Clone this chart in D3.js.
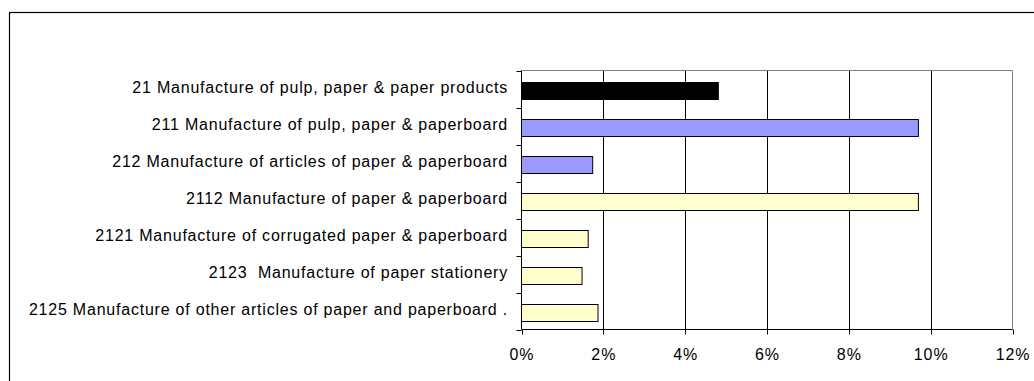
<!DOCTYPE html>
<html>
<head>
<meta charset="utf-8">
<script src="https://cdn.jsdelivr.net/npm/d3@7"></script>
<style>
  html, body { margin: 0; padding: 0; background: #fff; }
  svg { display: block; }
  text { font-family: "Liberation Sans", Arial, sans-serif; fill: #000; white-space: pre; }
</style>
</head>
<body>
<svg id="chart" width="1034" height="381"></svg>
<script>
// Industry categories (top to bottom)
const categories = [
  "21 Manufacture of pulp, paper & paper products",
  "211 Manufacture of pulp, paper & paperboard",
  "212 Manufacture of articles of paper & paperboard",
  "2112 Manufacture of paper & paperboard",
  "2121 Manufacture of corrugated paper & paperboard",
  "2123  Manufacture of paper stationery",
  "2125 Manufacture of other articles of paper and paperboard ."
];
// Share values, in percent
const values = [4.81, 9.7, 1.74, 9.7, 1.63, 1.48, 1.87];
// Classification level of each category
const levels = ["division", "group", "group", "class", "class", "class", "class"];
// Axis ticks, in percent
const xTicks = [0, 2, 4, 6, 8, 10, 12];

const levelColor = { division: "#000000", group: "#9999FF", class: "#FFFFCC" };

const svg = d3.select("#chart");

// Outer chart frame
svg.append("rect")
  .attr("x", 9.5).attr("y", 12.5)
  .attr("width", 1200).attr("height", 600)
  .attr("fill", "#fff").attr("stroke", "#000").attr("stroke-width", 1.2);

const plot = { left: 521.5, right: 1012.5, top: 70.5, bottom: 329.5 };

const x = d3.scaleLinear().domain([0, 12]).range([plot.left, plot.right]);
const y = d3.scaleBand().domain(categories).range([plot.top, plot.bottom]).padding(0);

const g = svg.append("g");

// Vertical gridlines
g.selectAll("line.grid")
  .data(xTicks.filter(t => t > 0 && t < 12))
  .join("line")
  .attr("class", "grid")
  .attr("x1", d => Math.round(x(d)) + 0.5).attr("x2", d => Math.round(x(d)) + 0.5)
  .attr("y1", plot.top).attr("y2", plot.bottom)
  .attr("stroke", "#000").attr("stroke-width", 1);

// Plot area border (top and right)
g.append("path")
  .attr("d", `M${plot.left},${plot.top}H${plot.right}V${plot.bottom}`)
  .attr("fill", "none").attr("stroke", "#808080").attr("stroke-width", 1);

// Bars
const barH = 17;
g.selectAll("rect.bar")
  .data(categories)
  .join("rect")
  .attr("class", "bar")
  .attr("x", x(0))
  .attr("y", (d, i) => Math.round(y(d) + (y.bandwidth() - barH) / 2) + 1.5)
  .attr("width", (d, i) => x(values[i]) - x(0))
  .attr("height", barH)
  .attr("fill", (d, i) => levelColor[levels[i]])
  .attr("stroke", "#000").attr("stroke-width", 1);

// Category axis: line with ticks between categories
const catTicks = categories.map(c => y(c)).concat([plot.bottom]);
g.append("line")
  .attr("x1", plot.left).attr("x2", plot.left)
  .attr("y1", plot.top).attr("y2", plot.bottom)
  .attr("stroke", "#000");
g.selectAll("line.ytick")
  .data(catTicks)
  .join("line")
  .attr("class", "ytick")
  .attr("x1", plot.left - 5).attr("x2", plot.left)
  .attr("y1", d => Math.round(d) + 0.5).attr("y2", d => Math.round(d) + 0.5)
  .attr("stroke", "#000");

// Category labels
g.selectAll("text.ylabel")
  .data(categories)
  .join("text")
  .attr("class", "ylabel")
  .attr("x", 508)
  .attr("y", d => y(d) + y.bandwidth() / 2)
  .attr("dy", 4)
  .attr("text-anchor", "end")
  .attr("font-size", 16)
  .attr("letter-spacing", 0.78)
  .text(d => d);

// Value axis
g.append("line")
  .attr("x1", plot.left).attr("x2", plot.right)
  .attr("y1", plot.bottom).attr("y2", plot.bottom)
  .attr("stroke", "#000");
g.selectAll("line.xtick")
  .data(xTicks)
  .join("line")
  .attr("class", "xtick")
  .attr("x1", d => Math.round(x(d)) + 0.5).attr("x2", d => Math.round(x(d)) + 0.5)
  .attr("y1", plot.bottom).attr("y2", plot.bottom + 5)
  .attr("stroke", "#000");
g.selectAll("text.xlabel")
  .data(xTicks)
  .join("text")
  .attr("class", "xlabel")
  .attr("x", d => x(d) + 0.5)
  .attr("y", plot.bottom + 30.5)
  .attr("text-anchor", "middle")
  .attr("font-size", 16)
  .attr("letter-spacing", 0.9)
  .text(d => d + "%");
</script>
</body>
</html>
